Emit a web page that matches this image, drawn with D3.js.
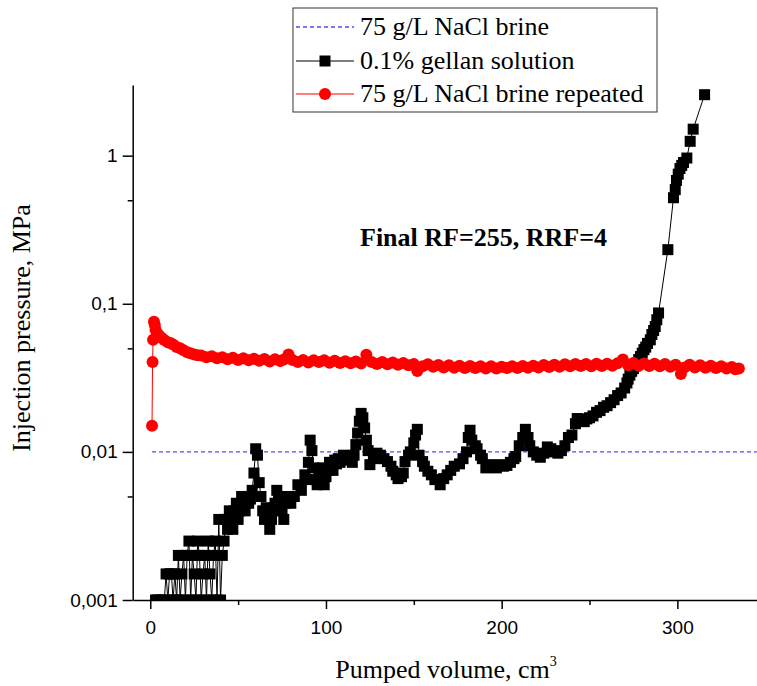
<!DOCTYPE html>
<html>
<head>
<meta charset="utf-8">
<script src="https://cdn.jsdelivr.net/npm/d3@7"></script>
<style>body{margin:0;background:#fff}</style>
</head>
<body>
<script>
// axis ticks
var xTicks = [0, 100, 200, 300];
var xMinor = [50, 150, 250];
var yTicks = [0.001, 0.01, 0.1, 1];
var yTickLabels = ['0,001', '0,01', '0,1', '1'];
var yMinor = [0.005, 0.05, 0.5];

// 75 g/L NaCl brine (reference level)
var brineVol = [1, 346];
var brineP = [0.01, 0.01];

// 0.1% gellan solution
var gellanVol = [3,4,6,8,9,10,11,12,13,14,15,16,17,18,19,20,21,22,23,24,25,26,27,28,29,30,31,32,33,34,35,36,37,38,39,40,41,42,43,44,45,46,47,48,49,50,51,52,53,54,55,56,57,58,59,60,61,62,63,64,65,66,67,68,69,70,71,72,73,74,75,76,77,78,79,80,82,84,86,88,89,90,91,92,93,94,95,96,97,98,99,100,101,102,103,104,105,106,107,108,110,112,114,115,116,117,118,119,120,121,122,123,124,125,127,129,131,133,135,137,138,140,141,143,144,145,147,148,150,151,152,153,155,156,158,160,162,165,167,169,171,173,176,178,180,181,182,183,185,186,188,189,191,193,195,197,199,201,203,205,207,208,210,212,213.5,215,216,218,220,222,224,226,228,230,232,234,236,238,240,242,243,245,247,248.5,250,252,254,256,258,260,262,264,266,268,270,271.3,272,273,274,275,276,277,278,279,280,281,282,283,284.6,285.5,286.5,287.4,288.3,289.3,294.6,297.8,298.8,299.5,300.5,301.5,302.5,303.5,305.4,307.3,309,315.5];
var gellanP = [0.001,0.001,0.001,0.001,0.0015,0.001,0.0015,0.0015,0.001,0.0015,0.001,0.002,0.001,0.0015,0.002,0.001,0.002,0.0025,0.001,0.002,0.0015,0.001,0.0025,0.002,0.001,0.0015,0.002,0.001,0.0025,0.0015,0.001,0.002,0.0025,0.001,0.0035,0.001,0.002,0.0025,0.0035,0.003,0.004,0.0035,0.003,0.004,0.0045,0.0035,0.004,0.005,0.0045,0.004,0.005,0.0045,0.0048,0.0055,0.0072,0.0105,0.0095,0.0062,0.005,0.004,0.0035,0.0042,0.0038,0.003,0.0035,0.004,0.0045,0.0055,0.005,0.0045,0.004,0.0035,0.0045,0.005,0.0048,0.0045,0.005,0.006,0.0055,0.007,0.0065,0.0085,0.012,0.0102,0.0078,0.0065,0.006,0.0072,0.007,0.0078,0.006,0.0068,0.0075,0.0085,0.008,0.0075,0.0088,0.0083,0.009,0.0085,0.0095,0.0088,0.009,0.0085,0.0095,0.0112,0.0134,0.0161,0.0182,0.017,0.0145,0.012,0.0102,0.0082,0.009,0.0098,0.0095,0.009,0.0086,0.008,0.0074,0.007,0.0066,0.0068,0.0072,0.0086,0.0095,0.01,0.0115,0.013,0.0142,0.0095,0.0086,0.008,0.0074,0.007,0.0065,0.006,0.0066,0.007,0.0075,0.008,0.0083,0.009,0.01,0.0125,0.014,0.012,0.011,0.0105,0.0095,0.009,0.0078,0.0082,0.008,0.0078,0.0082,0.008,0.0081,0.0085,0.009,0.0093,0.011,0.0125,0.0142,0.0125,0.011,0.01,0.0095,0.0092,0.0098,0.0108,0.0105,0.01,0.0098,0.0102,0.011,0.0125,0.013,0.0155,0.0168,0.0165,0.016,0.0167,0.017,0.0175,0.0185,0.019,0.02,0.0205,0.0215,0.0225,0.024,0.025,0.027,0.0292,0.031,0.033,0.035,0.0365,0.038,0.0396,0.042,0.044,0.0464,0.049,0.051,0.054,0.0571,0.062,0.066,0.0702,0.078,0.0867,0.232,0.52,0.59,0.68,0.75,0.82,0.86,0.9,0.964,1.25,1.51,2.58];

// 75 g/L NaCl brine repeated
var repVol = [1,1.3,1.6,2.1,2.6,3,4,5,6.6,8,10,11.4,13,15,17,19,21,22.8,25,27,29,32,35,38,41,44,47,50,53,56,59,62,65,68,71,74,76,78.7,81,84,87,90,93,96,99,102,105,108,111,114,117,120,123,126,129,132,135,138,141,144,147,150,152,155,158,161,164,167,170,173,176,179,182,185,188,191,194,197,200,203,206,209,212,215,218,221,224,227,230,233,236,239,242,245,248,251,254,257,260,263,266,269,272,275,278,281,284,287,290,293,296,299,302,304,307,310,313,316,319,322,325,328,331,333,335];
var repP = [0.015,0.0404,0.0572,0.0757,0.072,0.0667,0.063,0.061,0.0587,0.057,0.055,0.0543,0.053,0.051,0.05,0.0485,0.047,0.0464,0.0455,0.045,0.0448,0.0435,0.0442,0.0428,0.0436,0.0422,0.0432,0.0418,0.0428,0.0415,0.0426,0.0412,0.0424,0.0408,0.0422,0.041,0.042,0.0455,0.0418,0.0405,0.0418,0.0402,0.0415,0.0404,0.0416,0.04,0.0412,0.0398,0.041,0.0396,0.0408,0.0395,0.0452,0.0405,0.0392,0.0404,0.039,0.0402,0.0388,0.0398,0.0385,0.0392,0.0352,0.0378,0.039,0.0375,0.0386,0.0372,0.0384,0.037,0.0382,0.0368,0.038,0.0368,0.0378,0.0366,0.0378,0.0365,0.0376,0.0368,0.0378,0.0368,0.038,0.037,0.0382,0.0372,0.0386,0.0374,0.0388,0.0376,0.039,0.0378,0.0392,0.038,0.0392,0.0378,0.0393,0.038,0.0394,0.0382,0.0396,0.042,0.0385,0.0398,0.0382,0.0395,0.038,0.0394,0.0378,0.0392,0.0376,0.0388,0.0335,0.0372,0.0388,0.0372,0.0385,0.037,0.0382,0.0368,0.0378,0.0365,0.0374,0.0362,0.0365];

var legendLabels = ['75 g/L NaCl brine', '0.1% gellan solution', '75 g/L NaCl brine repeated'];
var noteText = 'Final RF=255, RRF=4';

var W = 757, H = 686;
var plotLeft = 132.7, plotTop = 85, plotBottom = 600;

var svg = d3.select('body').append('svg').attr('width', W).attr('height', H);

var x = d3.scaleLinear().domain([-10, 350]).range([plotLeft, 765.2]);
var y = d3.scaleLog().domain([0.001, 3]).range([plotBottom, plotTop]);

svg.append('clipPath').attr('id', 'plot')
    .append('rect')
        .attr('x', plotLeft).attr('y', plotTop)
        .attr('width', W - plotLeft).attr('height', plotBottom - plotTop);

var marks = svg.append('g').attr('clip-path', 'url(#plot)');

var line = d3.line().x(function (d) { return x(d[0]); }).y(function (d) { return y(d[1]); });

// brine reference, dotted blue
marks.append('path')
    .datum(brineVol.map(function (d, i) { return [d, brineP[i]]; }))
    .attr('fill', 'none')
    .attr('stroke', '#4d4dff')
    .attr('stroke-width', 1.4)
    .attr('stroke-dasharray', '4,3')
    .attr('d', line);

// gellan
var gellan = gellanVol.map(function (d, i) { return [d, gellanP[i]]; });
marks.append('path')
    .datum(gellan)
    .attr('fill', 'none')
    .attr('stroke', '#000')
    .attr('stroke-width', 1)
    .attr('d', line);
marks.selectAll('rect.gellan')
    .data(gellan)
    .enter().append('rect')
        .attr('class', 'gellan')
        .attr('x', function (d) { return x(d[0]) - 5.5; })
        .attr('y', function (d) { return y(d[1]) - 5.5; })
        .attr('width', 11)
        .attr('height', 11)
        .attr('fill', '#000');

// brine repeated
var rep = repVol.map(function (d, i) { return [d, repP[i]]; });
marks.append('path')
    .datum(rep)
    .attr('fill', 'none')
    .attr('stroke', '#ff0000')
    .attr('stroke-width', 1)
    .attr('d', line);
marks.selectAll('circle.rep')
    .data(rep)
    .enter().append('circle')
        .attr('class', 'rep')
        .attr('cx', function (d) { return x(d[0]); })
        .attr('cy', function (d) { return y(d[1]); })
        .attr('r', 6)
        .attr('fill', '#ff0000');

// axes
svg.append('g')
    .attr('transform', 'translate(0,' + plotBottom + ')')
    .call(d3.axisBottom(x).tickValues(xTicks).tickSize(9).tickSizeOuter(0).tickPadding(12));
svg.append('g')
    .attr('transform', 'translate(0,' + plotBottom + ')')
    .call(d3.axisBottom(x).tickValues(xMinor).tickSize(5).tickFormat(''))
    .select('.domain').remove();

svg.append('g')
    .attr('transform', 'translate(' + plotLeft + ',0)')
    .call(d3.axisLeft(y).tickValues(yTicks).tickSize(10).tickSizeOuter(0).tickPadding(5)
        .tickFormat(function (d, i) { return yTickLabels[i]; }));
svg.append('g')
    .attr('transform', 'translate(' + plotLeft + ',0)')
    .call(d3.axisLeft(y).tickValues(yMinor).tickSize(5).tickFormat(''))
    .select('.domain').remove();

svg.selectAll('.domain, .tick line').attr('stroke', '#000').attr('stroke-width', 1.5);
svg.selectAll('.tick text')
    .attr('font-family', 'Liberation Sans, Arial, sans-serif')
    .attr('font-size', 19)
    .attr('fill', '#000');

// axis titles
svg.append('text')
    .attr('transform', 'translate(30,328) rotate(-90)')
    .attr('text-anchor', 'middle')
    .attr('font-family', 'Liberation Serif, Times New Roman, serif')
    .attr('font-size', 26)
    .text('Injection pressure, MPa');

var xt = svg.append('text')
    .attr('x', 446).attr('y', 678)
    .attr('text-anchor', 'middle')
    .attr('font-family', 'Liberation Serif, Times New Roman, serif')
    .attr('font-size', 26)
    .text('Pumped volume, cm');
xt.append('tspan').attr('dy', -12).attr('font-size', 14).text('3');

// note
svg.append('text')
    .attr('x', 360).attr('y', 246)
    .attr('font-family', 'Liberation Serif, Times New Roman, serif')
    .attr('font-weight', 'bold')
    .attr('font-size', 26)
    .text(noteText);

// legend
var lg = svg.append('g');
lg.append('rect')
    .attr('x', 293).attr('y', 8).attr('width', 364).attr('height', 104)
    .attr('fill', '#fff').attr('stroke', '#333').attr('stroke-width', 1);
var rowsY = [27, 61, 94];
var lineCol = ['#4d4dff', '#000', '#ff0000'];
lg.selectAll('line.lg')
    .data(legendLabels)
    .enter().append('line')
        .attr('class', 'lg')
        .attr('x1', 296).attr('x2', 354)
        .attr('y1', function (d, i) { return rowsY[i]; })
        .attr('y2', function (d, i) { return rowsY[i]; })
        .attr('stroke', function (d, i) { return lineCol[i]; })
        .attr('stroke-width', function (d, i) { return i == 0 ? 1.4 : 1; })
        .attr('stroke-dasharray', function (d, i) { return i == 0 ? '4,3' : null; });
lg.append('rect').attr('x', 325 - 5.5).attr('y', rowsY[1] - 5.5).attr('width', 11).attr('height', 11).attr('fill', '#000');
lg.append('circle').attr('cx', 325).attr('cy', rowsY[2]).attr('r', 6).attr('fill', '#ff0000');
lg.selectAll('text')
    .data(legendLabels)
    .enter().append('text')
        .attr('x', 360)
        .attr('y', function (d, i) { return rowsY[i] + 8; })
        .attr('font-family', 'Liberation Serif, Times New Roman, serif')
        .attr('font-size', 26)
        .text(function (d) { return d; });
</script>
</body>
</html>
